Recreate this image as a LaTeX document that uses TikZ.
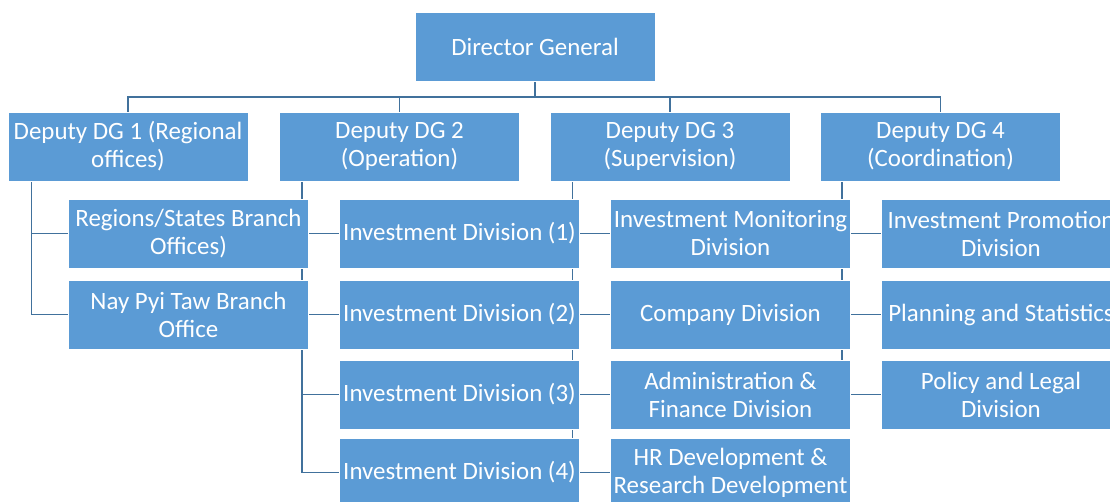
\documentclass[tikz,border=0pt]{standalone}
\usepackage{fontspec}
\setmainfont{Carlito}
\usetikzlibrary{calc,positioning,backgrounds}

\begin{document}
\begin{tikzpicture}[x=0.75pt,y=0.75pt,yscale=-1,xscale=1,
  unit/.style={draw=white,line width=0.6pt,fill={rgb,255:red,91;green,155;blue,213},text=white,
    minimum width=180pt,minimum height=51.75pt,inner sep=1pt,align=center,
    font=\fontsize{18.7}{21}\selectfont},
  link/.style={draw={rgb,255:red,65;green,113;blue,156},line width=1pt}]
\useasboundingbox (0,0) rectangle (1110,501);
\clip (0,0) rectangle (1110,501);

% Top
\node [unit] (dg) at (535,46.5) {Director General};

% Deputies
\node [unit] (dep1) at (128,146.5) {Deputy DG 1 (Regional\\offices)};
\node [unit] (dep2) at (399.5,146.5) {Deputy DG 2\\(Operation)};
\node [unit] (dep3) at (670,146.5) {Deputy DG 3\\(Supervision)};
\node [unit] (dep4) at (940.5,146.5) {Deputy DG 4\\(Coordination)};

% Regional offices
\node [unit] (rso) at (188.5,233.5) {Regions/States Branch\\Offices)};
\node [unit] (npt) at (188.5,314.5) {Nay Pyi Taw Branch\\Office};

% Operation
\node [unit] (inv1) at (459.5,233.5) {Investment Division (1)};
\node [unit] (inv2) at (459.5,314.5) {Investment Division (2)};
\node [unit] (inv3) at (459.5,394.5) {Investment Division (3)};
\node [unit] (inv4) at (459.5,472.5) {Investment Division (4)};

% Supervision
\node [unit] (imd) at (730.5,233.5) {Investment Monitoring\\Division};
\node [unit] (com) at (730.5,314.5) {Company Division};
\node [unit] (adm) at (730.5,394.5) {Administration \&\\Finance Division};
\node [unit] (hrd) at (730.5,472.5) {HR Development \&\\Research Development};

% Coordination
\node [unit] (ipd) at (1001,233.5) {Investment Promotion\\Division};
\node [unit] (pls) at (1001,314.5) {Planning and Statistics};
\node [unit] (pld) at (1001,394.5) {Policy and Legal\\Division};

\begin{scope}[on background layer]
% bus
\coordinate (bus) at (535,97);
\draw [link] (dg.south) -- (bus);
\draw [link] (dep1.north) |- (bus) -| (dep4.north);
\draw [link] (dep2.north) -- (dep2.north |- bus);
\draw [link] (dep3.north) -- (dep3.north |- bus);

% trunks
\coordinate (t1) at ($(dep1.south west)+(24,0)$);
\coordinate (t2) at ($(dep2.south west)+(23,0)$);
\coordinate (t3) at ($(dep3.south west)+(23,0)$);
\coordinate (t4) at ($(dep4.south west)+(22,0)$);
\foreach \c in {rso,npt} \draw [link] (t1) |- (\c.west);
\foreach \c in {inv1,inv2,inv3,inv4} \draw [link] (t2) |- (\c.west);
\foreach \c in {imd,com,adm,hrd} \draw [link] (t3) |- (\c.west);
\foreach \c in {ipd,pls,pld} \draw [link] (t4) |- (\c.west);
\end{scope}

\end{tikzpicture}
\end{document}
